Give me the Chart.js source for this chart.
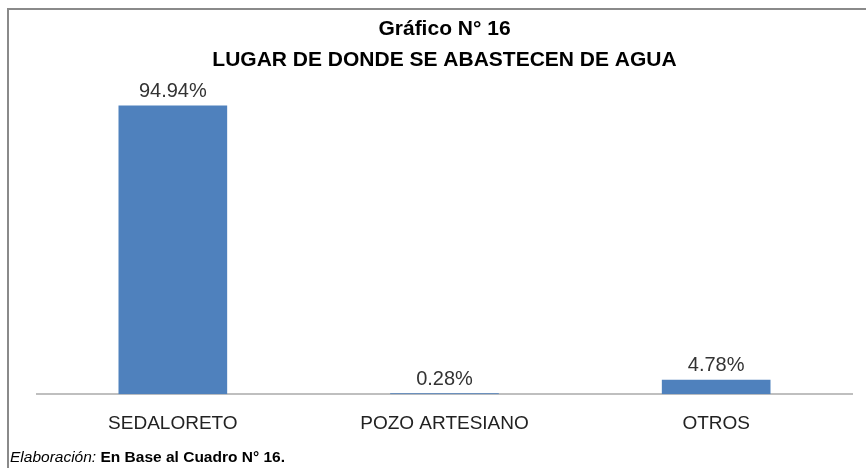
<!DOCTYPE html>
<html lang="es">
<head>
    <meta charset="UTF-8">
    <title>Gráfico N° 16</title>
    <script src="https://cdn.jsdelivr.net/npm/chart.js"></script>
    <style>
        body {
            margin: 0;
            padding: 0;
            background-color: #fff;
            font-family: "Liberation Sans", Arial, sans-serif;
        }
        .frame {
            position: absolute;
            left: 7px;
            top: 8px;
            width: 859px;
            height: 460px;
            border-top: 2px solid #8a8a8a;
            border-left: 2px solid #8a8a8a;
        }
        .chart-box {
            position: absolute;
            left: 0;
            top: 0;
            width: 866px;
            height: 468px;
        }
        .source {
            position: absolute;
            left: 10px;
            top: 448px;
            font-size: 15.5px;
            color: #000;
        }
        .source i { font-style: italic; }
        .source b { font-weight: bold; }
    </style>
</head>
<body>
    <div class="frame"></div>
    <div class="chart-box">
        <canvas id="aguaChart" width="866" height="468"></canvas>
    </div>
    <div class="source"><i>Elaboración:</i> <b>En Base al Cuadro N° 16.</b></div>
    <script>
        const categories = ['SEDALORETO', 'POZO ARTESIANO', 'OTROS'];
        const percentages = [94.94, 0.28, 4.78];

        // etiquetas de valor encima de cada barra
        const valueLabels = {
            id: 'valueLabels',
            afterDatasetsDraw(chart) {
                const ctx = chart.ctx;
                const meta = chart.getDatasetMeta(0);
                ctx.save();
                ctx.font = '20px "Liberation Sans", Arial, sans-serif';
                ctx.fillStyle = '#333';
                ctx.textAlign = 'center';
                ctx.textBaseline = 'bottom';
                meta.data.forEach(function(bar, i) {
                    ctx.fillText(percentages[i].toFixed(2) + '%', bar.x, bar.y - 4);
                });
                ctx.restore();
            }
        };

        const ctx = document.getElementById('aguaChart').getContext('2d');
        new Chart(ctx, {
            type: 'bar',
            data: {
                labels: categories,
                datasets: [{
                    data: percentages,
                    backgroundColor: '#4f81bd',
                    borderWidth: 0,
                    categoryPercentage: 0.4,
                    barPercentage: 1.0
                }]
            },
            options: {
                responsive: false,
                animation: false,
                layout: {
                    padding: { left: 37, right: 14, top: 0, bottom: 23 }
                },
                plugins: {
                    legend: { display: false },
                    tooltip: { enabled: false },
                    title: {
                        display: true,
                        text: ['Gráfico N° 16', 'LUGAR DE DONDE SE ABASTECEN DE AGUA'],
                        color: '#000',
                        font: { family: '"Liberation Sans", Arial, sans-serif', size: 21, weight: 'bold', lineHeight: 1.476 },
                        padding: { top: 14, bottom: 14 }
                    }
                },
                scales: {
                    x: {
                        grid: { display: false },
                        border: { display: true, color: '#bfbfbf', width: 2 },
                        ticks: {
                            color: '#222',
                            padding: 10,
                            font: { family: '"Liberation Sans", Arial, sans-serif', size: 19 }
                        }
                    },
                    y: {
                        display: false,
                        min: 0,
                        max: 100
                    }
                }
            },
            plugins: [valueLabels]
        });
    </script>
</body>
</html>
